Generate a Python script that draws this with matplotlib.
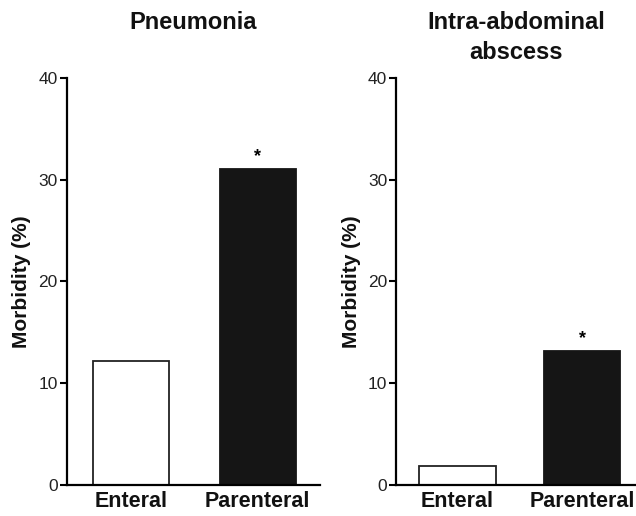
import matplotlib.pyplot as plt

plt.rcParams['font.family'] = ['Liberation Sans', 'DejaVu Sans']

groups = ["Enteral", "Parenteral"]
pneumonia = [12.2, 31.1]
abscess = [1.9, 13.2]
titles = ["Pneumonia", "Intra-abdominal\nabscess"]

fig = plt.figure(figsize=(6.36, 5.16), dpi=100)
ax1 = fig.add_axes([0.105, 0.060, 0.398, 0.789])
ax2 = fig.add_axes([0.623, 0.060, 0.377, 0.789])

setup = [(ax1, pneumonia, titles[0], (-0.504, 1.49), 0.6, 0.957),
         (ax2, abscess, titles[1], (-0.49, 1.43), 0.61, 0.927)]

for ax, vals, title, xlim, w, ty in setup:
    ax.bar([0, 1], vals, width=w, color=["white", "#151515"],
           edgecolor=["#222222", "#151515"], linewidth=1.3)
    # significance marker
    ax.text(1, vals[1] + 0.7, "*", ha="center", va="baseline", fontsize=13, fontweight="bold")
    ax.set_ylim(0, 40)
    ax.set_xlim(*xlim)
    ax.set_yticks([0, 10, 20, 30, 40])
    ax.set_xticks([0, 1])
    ax.set_xticklabels(groups, fontsize=15.5, fontweight="bold", color="#111111")
    ax.tick_params(axis="x", length=0, pad=4)
    ax.tick_params(axis="y", length=5, width=1.5, labelsize=12.5, pad=1.5, labelcolor="#222222")
    for s in ["top", "right"]:
        ax.spines[s].set_visible(False)
    for s in ["left", "bottom"]:
        ax.spines[s].set_linewidth(1.6)
    ax.set_ylabel("Morbidity (%)", fontsize=15, fontweight="bold", labelpad=5, color="#111111")
    bb = ax.get_position()
    fig.text((bb.x0 + bb.x1) / 2, ty, title, ha="center", va="center",
             fontsize=17, fontweight="bold", linespacing=1.4, color="#111111")

fig.savefig("out.png", dpi=100)
